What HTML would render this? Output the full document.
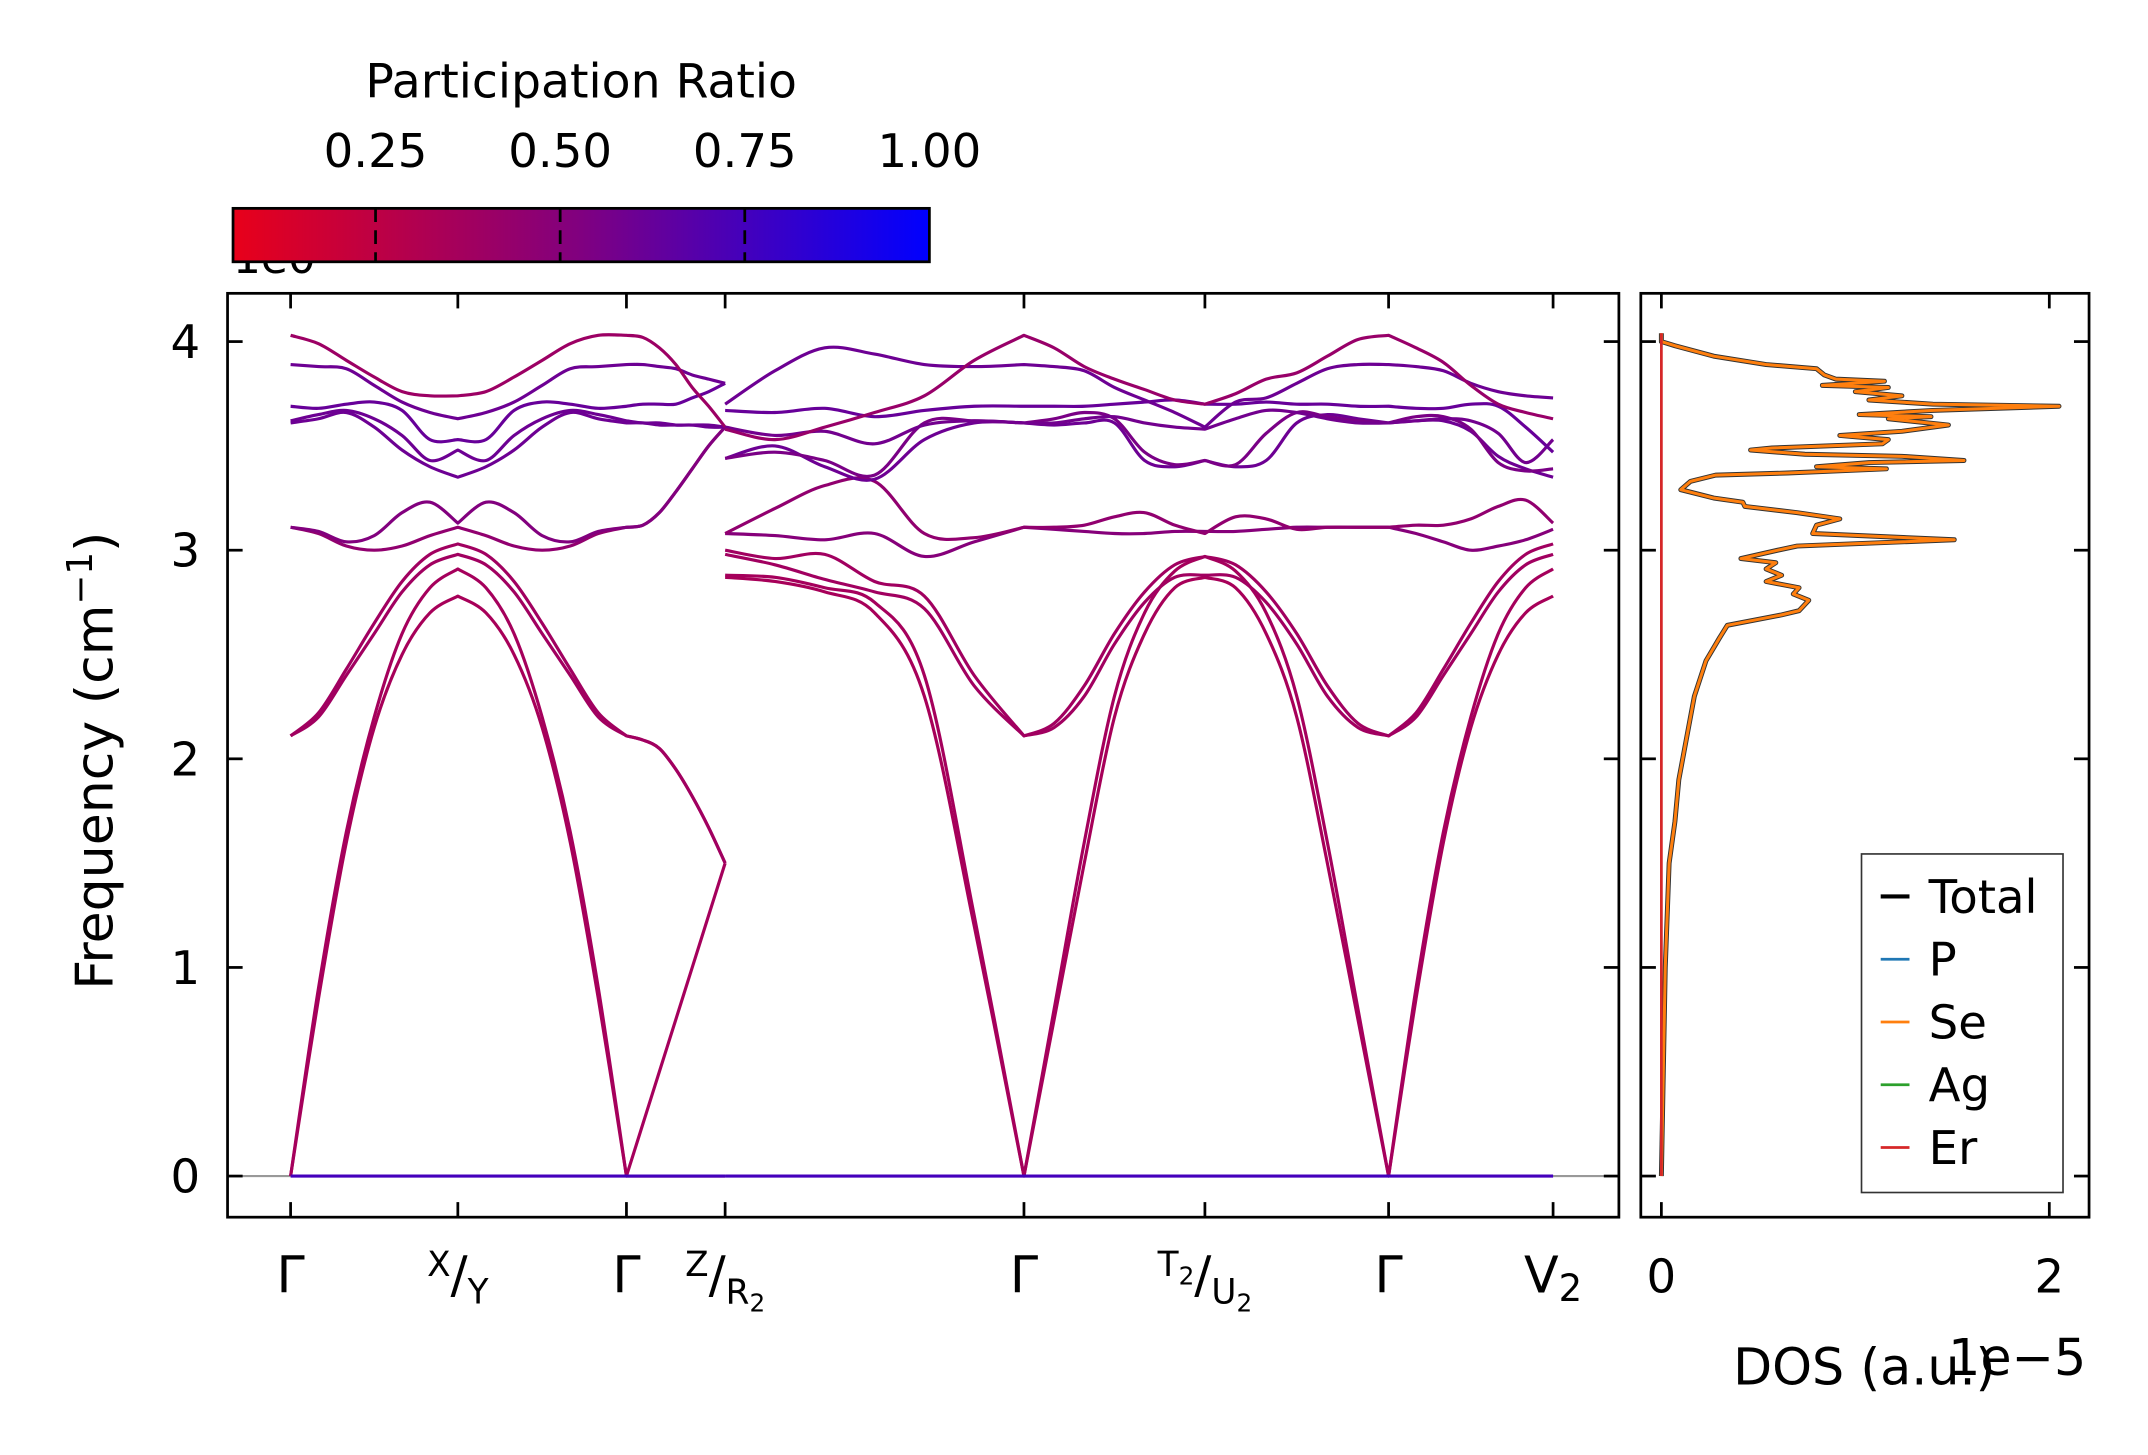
<!DOCTYPE html>
<html><head><meta charset="utf-8"><title>Phonon band structure and DOS</title>
<style>
html,body{margin:0;padding:0;background:#fff;}
svg{display:block;font-family:"DejaVu Sans","Liberation Sans",sans-serif;}
</style></head>
<body>
<svg id="fig" width="2148" height="1455" viewBox="0 0 1567 1061.5" preserveAspectRatio="none" xmlns="http://www.w3.org/2000/svg">
<defs>
<linearGradient id="cmap" x1="0" x2="1" y1="0" y2="0">
<stop offset="0" stop-color="#e8001a"/><stop offset="0.5" stop-color="#800080"/><stop offset="1" stop-color="#0000ff"/>
</linearGradient>
<clipPath id="clipMain"><rect x="166" y="214" width="1015" height="674"/></clipPath>
<clipPath id="clipDos"><rect x="1197" y="214" width="327" height="674"/></clipPath>
</defs>
<g id="colorbar">
<text x="170" y="199" font-size="32">1e0</text>
<rect x="170" y="152" width="508" height="39" fill="url(#cmap)" stroke="#000" stroke-width="2"/>
<text x="424" y="71" font-size="34.5" text-anchor="middle">Participation Ratio</text>
</g>
<g id="mainAxes"></g>
<g id="dosAxes"></g>
</svg>
<script>
// ---------- data ----------
const kTicks = [0, 0.122, 0.245, 0.317, 0.535, 0.667, 0.801, 0.921];
const kLabels = ["Γ","X/Y","Γ","Z/R2","Γ","T2/U2","Γ","V2"];
const yTicks = [0,1,2,3,4];
const cbTicks = [0.25,0.5,0.75,1.0];
const cbMin = 0.057, cbMax = 1.0;
const dosTicks = [0,2];
// piece A: Γ-X-Γ-Z (19 samples); piece B: R2-Γ-T2-Γ-V2 (25 samples)
const bandsA = [
 [0,.85,1.6,2.15,2.5,2.7,2.78, 2.7,2.5,2.15,1.6,.85,0, 0,0,0,0,0,0],
 [0,.9,1.65,2.2,2.6,2.82,2.91, 2.82,2.6,2.2,1.65,.9,0, .25,.5,.75,1.0,1.25,1.5],
 [2.11,2.2,2.4,2.6,2.8,2.93,2.98, 2.93,2.8,2.6,2.4,2.2,2.11, 2.09,2.05,1.95,1.82,1.67,1.5],
 [2.11,2.22,2.43,2.65,2.85,2.98,3.03, 2.98,2.85,2.65,2.43,2.22,2.11, 2.09,2.05,1.95,1.82,1.67,1.5],
 [3.11,3.08,3.02,3.0,3.02,3.07,3.11, 3.07,3.02,3.0,3.02,3.08,3.11, 3.12,3.18,3.28,3.39,3.5,3.59],
 [3.11,3.09,3.04,3.07,3.18,3.23,3.13, 3.23,3.18,3.07,3.04,3.09,3.11, 3.12,3.18,3.28,3.39,3.5,3.59],
 [3.61,3.63,3.66,3.59,3.48,3.40,3.35, 3.40,3.48,3.59,3.66,3.63,3.61, 3.61,3.60,3.60,3.60,3.60,3.59],
 [3.62,3.65,3.67,3.63,3.55,3.43,3.48, 3.43,3.55,3.63,3.67,3.65,3.62, 3.61,3.61,3.60,3.60,3.59,3.59],
 [3.69,3.68,3.70,3.71,3.67,3.53,3.53, 3.53,3.67,3.71,3.70,3.68,3.69, 3.70,3.70,3.70,3.73,3.76,3.80],
 [3.89,3.88,3.87,3.79,3.71,3.66,3.63, 3.66,3.71,3.79,3.87,3.88,3.89, 3.89,3.88,3.87,3.84,3.82,3.80],
 [4.03,3.99,3.91,3.83,3.76,3.74,3.74, 3.76,3.83,3.91,3.99,4.03,4.03, 4.02,3.97,3.89,3.78,3.69,3.59],
 [0,0,0,0,0,0,0, 0,0,0,0,0,0, 0,0,0,0,0,0]
];
const bandsB = [
 [2.87,2.85,2.80,2.70,2.3,1.2,0, .75,1.5,2.2,2.6,2.82,2.87, 2.82,2.6,2.2,1.5,.75,0, .85,1.6,2.15,2.5,2.7,2.78],
 [2.88,2.87,2.82,2.75,2.4,1.25,0, .8,1.6,2.3,2.7,2.9,2.97, 2.9,2.7,2.3,1.6,.8,0, .9,1.65,2.2,2.6,2.82,2.91],
 [2.98,2.93,2.86,2.8,2.72,2.35,2.11, 2.15,2.3,2.55,2.75,2.87,2.88, 2.87,2.75,2.55,2.3,2.15,2.11, 2.2,2.4,2.6,2.8,2.93,2.98],
 [3.0,2.96,2.98,2.85,2.78,2.4,2.11, 2.17,2.35,2.6,2.8,2.93,2.97, 2.93,2.8,2.6,2.35,2.17,2.11, 2.22,2.43,2.65,2.85,2.98,3.03],
 [3.08,3.07,3.05,3.08,2.97,3.04,3.11, 3.10,3.09,3.08,3.08,3.09,3.09, 3.09,3.10,3.11,3.11,3.11,3.11, 3.08,3.04,3.0,3.02,3.05,3.10],
 [3.08,3.20,3.31,3.33,3.08,3.06,3.11, 3.11,3.12,3.16,3.18,3.12,3.08, 3.16,3.15,3.10,3.11,3.11,3.11, 3.12,3.12,3.15,3.21,3.24,3.13],
 [3.44,3.50,3.40,3.34,3.53,3.61,3.61, 3.60,3.61,3.61,3.43,3.40,3.43, 3.40,3.43,3.61,3.65,3.63,3.61, 3.62,3.62,3.57,3.45,3.39,3.35],
 [3.44,3.47,3.43,3.36,3.61,3.62,3.61, 3.63,3.66,3.63,3.47,3.41,3.43, 3.41,3.56,3.66,3.64,3.62,3.61, 3.64,3.64,3.58,3.42,3.38,3.39],
 [3.59,3.55,3.57,3.51,3.60,3.62,3.61, 3.61,3.63,3.64,3.61,3.59,3.58, 3.63,3.67,3.66,3.63,3.61,3.61, 3.62,3.63,3.62,3.56,3.42,3.53],
 [3.67,3.66,3.68,3.64,3.67,3.69,3.69, 3.69,3.69,3.70,3.71,3.72,3.70, 3.70,3.71,3.70,3.70,3.69,3.69, 3.68,3.68,3.70,3.69,3.59,3.47],
 [3.70,3.86,3.97,3.94,3.89,3.88,3.89, 3.88,3.86,3.78,3.72,3.66,3.59, 3.71,3.73,3.80,3.87,3.89,3.89, 3.88,3.86,3.80,3.76,3.74,3.73],
 [3.58,3.53,3.59,3.66,3.74,3.91,4.03, 3.97,3.88,3.82,3.77,3.72,3.70, 3.75,3.82,3.85,3.93,4.01,4.03, 3.97,3.90,3.79,3.70,3.66,3.63],
 [0,0,0,0,0,0,0, 0,0,0,0,0,0, 0,0,0,0,0,0, 0,0,0,0,0,0]
];
const partA = [0.35,0.36,0.38,0.38,0.45,0.52,0.6,0.6,0.62,0.6,0.4,0.75];
const partB = [0.35,0.36,0.38,0.38,0.5,0.45,0.6,0.55,0.58,0.62,0.6,0.42,0.75];
const dosFreq = [0,0.5,1.0,1.5,1.7,1.9,2.1,2.3,2.47,2.58,2.64,2.69,2.71,2.76,2.79,2.82,2.85,2.88,2.91,2.94,2.96,3.0,3.02,3.05,3.08,3.12,3.15,3.18,3.21,3.23,3.25,3.29,3.33,3.36,3.37,3.39,3.40,3.42,3.43,3.45,3.46,3.48,3.49,3.51,3.53,3.55,3.57,3.60,3.63,3.64,3.65,3.67,3.69,3.70,3.72,3.74,3.76,3.78,3.79,3.81,3.82,3.84,3.87,3.89,3.93,3.98,4.0,4.04];
const dosTotal = [0,0.01,0.02,0.04,0.07,0.09,0.13,0.17,0.23,0.30,0.34,0.62,0.71,0.76,0.68,0.71,0.54,0.62,0.54,0.59,0.41,0.60,0.70,1.51,0.78,0.80,0.92,0.70,0.43,0.42,0.27,0.10,0.15,0.28,0.65,1.16,0.80,1.07,1.56,1.24,0.74,0.46,0.57,1.14,1.17,0.92,1.24,1.48,1.17,1.39,1.02,1.40,2.05,1.40,1.07,1.24,1.0,1.17,0.83,1.15,0.90,0.84,0.80,0.54,0.27,0.07,0,0];
const legendNames = ["Total","P","Se","Ag","Er"];
const legendColors = ["#000000","#1f77b4","#ff7f0e","#2ca02c","#d62728"];

// ---------- scales ----------
const NS='http://www.w3.org/2000/svg';
const xK = k => 212 + k*1000;
const yF = f => 858 - f*152.2;
const xD = d => 1212 + d*141.5;
function mk(tag, attrs, parent){const e=document.createElementNS(NS,tag);for(const a in attrs)e.setAttribute(a,attrs[a]);parent.appendChild(e);return e;}
function cmap(p){let t=(p-cbMin)/(cbMax-cbMin);t=Math.max(0,Math.min(1,t));
 let r,g=0,b; if(t<0.5){const u=t/0.5;r=232+(128-232)*u;b=26+(128-26)*u;}else{const u=(t-0.5)/0.5;r=128*(1-u);b=128+(255-128)*u;}
 return `rgb(${Math.round(r)},${g},${Math.round(b)})`;}
function smoothSeg(pts){let d='';
 for(let i=0;i<pts.length-1;i++){const p0=pts[Math.max(0,i-1)],p1=pts[i],p2=pts[i+1],p3=pts[Math.min(pts.length-1,i+2)];
 const c1=[p1[0]+(p2[0]-p0[0])/6,p1[1]+(p2[1]-p0[1])/6],c2=[p2[0]-(p3[0]-p1[0])/6,p2[1]-(p3[1]-p1[1])/6];
 d+=` C${c1[0].toFixed(2)},${c1[1].toFixed(2)} ${c2[0].toFixed(2)},${c2[1].toFixed(2)} ${p2[0].toFixed(2)},${p2[1].toFixed(2)}`;}
 return d;}
function smooth(pts){let d=`M${pts[0][0].toFixed(2)},${pts[0][1].toFixed(2)}`;
 for(let s=0;s+6<pts.length;s+=6){d+=smoothSeg(pts.slice(s,s+7));}
 return d;}
function kGrid(segStart, segEnd){const g=[];for(let s=segStart;s<segEnd;s++){for(let j=0;j<6;j++){g.push(kTicks[s]+(kTicks[s+1]-kTicks[s])*j/6);}}g.push(kTicks[segEnd]);return g;}

// ---------- colorbar ticks ----------
const cb=document.getElementById('colorbar');
const cbX = v => 170 + (v-cbMin)/(cbMax-cbMin)*508;
cbTicks.forEach(v=>{
 const t=mk('text',{x:cbX(v),y:122,'font-size':34,'text-anchor':'middle'},cb);t.textContent=v.toFixed(2);
 
 
 if(v<1){const l=mk('line',{x1:cbX(v),x2:cbX(v),y1:152,y2:191,stroke:'#000','stroke-width':2,'stroke-dasharray':'10,6'},cb);
 
 }
});

// ---------- main axes ----------
const ax=document.getElementById('mainAxes');
const plot=mk('g',{'clip-path':'url(#clipMain)'},ax);


const zl=mk('line',{x1:166,x2:1181,y1:yF(0),y2:yF(0),stroke:'#999','stroke-width':1.6},plot);


const gA=kGrid(0,3), gB=kGrid(3,7);
bandsA.forEach((b,i)=>{const p=mk('path',{d:smooth(b.map((f,j)=>[xK(gA[j]),yF(f)])),fill:'none',stroke:cmap(partA[i]),'stroke-width':2.3,'stroke-linejoin':'round'},plot);
 
 });
bandsB.forEach((b,i)=>{const p=mk('path',{d:smooth(b.map((f,j)=>[xK(gB[j]),yF(f)])),fill:'none',stroke:cmap(partB[i]),'stroke-width':2.3,'stroke-linejoin':'round'},plot);
 
 });
const fr=mk('rect',{x:166,y:214,width:1015,height:674,fill:'none',stroke:'#000','stroke-width':2},ax);


yTicks.forEach(v=>{
 const y=yF(v);
 mk('line',{x1:166,x2:177,y1:y,y2:y,stroke:'#000','stroke-width':2},ax);
 mk('line',{x1:1170,x2:1181,y1:y,y2:y,stroke:'#000','stroke-width':2},ax);
 const t=mk('text',{x:146,y:y+12,'font-size':34,'text-anchor':'end'},ax);t.textContent=String(v);
 
 
});
kTicks.forEach((k,i)=>{
 const x=xK(k);
 mk('line',{x1:x,x2:x,y1:214,y2:225,stroke:'#000','stroke-width':2},ax);
 mk('line',{x1:x,x2:x,y1:877,y2:888,stroke:'#000','stroke-width':2},ax);
 const lab=kLabels[i];
 const t=mk('text',{x:x,y:943,'font-size':37,'text-anchor':'middle'},ax);
 
 
 if(lab.includes('/')){
  const [a,b]=lab.split('/');
  const sup=a.replace('2',''), subA=a.includes('2');
  const t1=mk('tspan',{'font-size':25,dy:-12},t);t1.textContent=sup;
  if(subA){const s=mk('tspan',{'font-size':18,dy:6},t);s.textContent='2';}
  const sl=mk('tspan',{'font-size':37,dy:subA?6:12},t);sl.textContent='/';
  const bb=b.replace('2','');const t2=mk('tspan',{'font-size':25,dy:8},t);t2.textContent=bb;
  if(b.includes('2')){const s2=mk('tspan',{'font-size':18,dy:6},t);s2.textContent='2';}
 } else if(lab.endsWith('2')){
  const t1=mk('tspan',{},t);t1.textContent=lab[0];
  const s=mk('tspan',{'font-size':27,dy:6},t);s.textContent='2';
 } else t.textContent=lab;
});
const yl=mk('text',{x:0,y:0,'font-size':38,'text-anchor':'middle',transform:'translate(82,555) rotate(-90)'},ax);


yl.textContent='Frequency (cm';
const ys=mk('tspan',{'font-size':26,dy:-15},yl);ys.textContent='−1';
const ye=mk('tspan',{dy:15},yl);ye.textContent=')';

// ---------- DOS axes ----------
const dx=document.getElementById('dosAxes');
const dplot=mk('g',{'clip-path':'url(#clipDos)'},dx);
const dpts=dosFreq.map((f,i)=>`${xD(dosTotal[i]).toFixed(2)},${yF(f).toFixed(2)}`).join(' ');
const tl=mk('polyline',{points:dpts,fill:'none',stroke:'#333','stroke-width':3.6,'stroke-linejoin':'round'},dplot);


const se=mk('polyline',{points:dpts,fill:'none',stroke:'#ff7f0e','stroke-width':2.2,'stroke-linejoin':'round'},dplot);


const er=mk('line',{x1:xD(0),x2:xD(0),y1:yF(0),y2:yF(4.04),stroke:'#d62728','stroke-width':2},dplot);


const df=mk('rect',{x:1197,y:214,width:327,height:674,fill:'none',stroke:'#000','stroke-width':2},dx);


yTicks.forEach(v=>{const y=yF(v);
 mk('line',{x1:1197,x2:1208,y1:y,y2:y,stroke:'#000','stroke-width':2},dx);
 mk('line',{x1:1513,x2:1524,y1:y,y2:y,stroke:'#000','stroke-width':2},dx);});
dosTicks.forEach(v=>{const x=xD(v);
 mk('line',{x1:x,x2:x,y1:214,y2:225,stroke:'#000','stroke-width':2},dx);
 mk('line',{x1:x,x2:x,y1:877,y2:888,stroke:'#000','stroke-width':2},dx);
 const t=mk('text',{x:x,y:943,'font-size':34,'text-anchor':'middle'},dx);t.textContent=String(v);
 
 });
const dl=mk('text',{x:1360,y:1010,'font-size':37,'text-anchor':'middle'},dx);dl.textContent='DOS (a.u.)';


const off=mk('text',{x:1522,y:1003,'font-size':37,'text-anchor':'end'},dx);off.textContent='1e−5';


const lg=mk('g',{},dx);


mk('rect',{x:1358,y:623,width:147,height:247,fill:'#fff',stroke:'#333','stroke-width':1.2},lg);
legendNames.forEach((n,i)=>{const y=654+i*45.8;
 const e=mk('g',{},lg);
 
 
 mk('line',{x1:1372,x2:1393,y1:y,y2:y,stroke:legendColors[i],'stroke-width':i===0?3:2},e);
 const t=mk('text',{x:1407,y:y+12,'font-size':34},e);t.textContent=n;});
</script>
</body></html>
